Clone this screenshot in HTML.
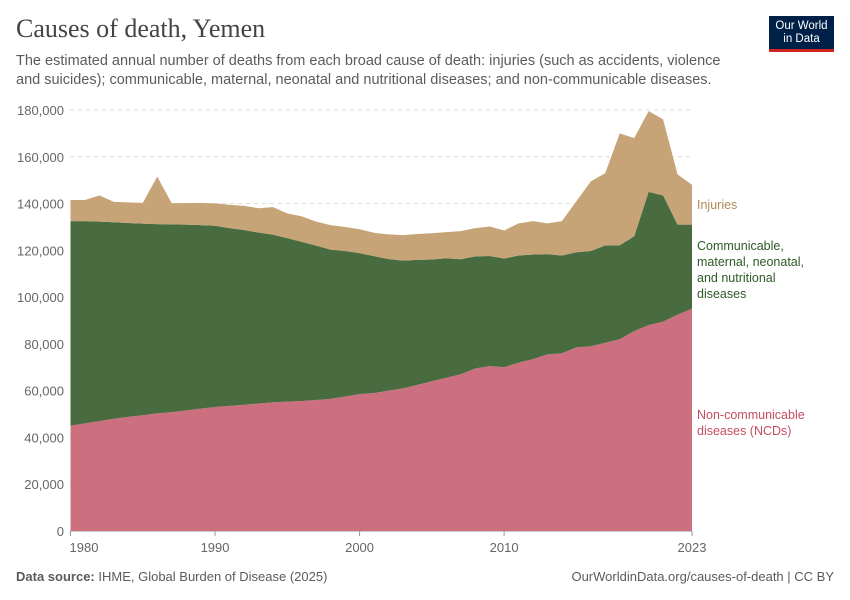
<!DOCTYPE html>
<html><head><meta charset="utf-8"><style>
body{margin:0;background:#fff;font-family:"Liberation Sans",sans-serif;}
#wrap{position:relative;width:850px;height:600px;overflow:hidden;}
.t{position:absolute;margin:0;}
</style></head><body>
<div id="wrap">
<div class="t" style="left:16px;top:14px;font-family:'Liberation Serif',serif;font-size:26px;color:#444;">Causes of death, Yemen</div>
<div class="t" style="left:16px;top:52px;width:720px;font-size:14.5px;line-height:19px;color:#5b5b5b;">The estimated annual number of deaths from each broad cause of death: injuries (such as accidents, violence and suicides); communicable, maternal, neonatal and nutritional diseases; and non-communicable diseases.</div>
<div class="t" style="left:769px;top:16px;width:65px;height:36px;background:#002147;color:#fff;font-size:11.5px;line-height:13px;text-align:center;padding-top:4px;box-sizing:border-box;border-bottom:3px solid #ce261e;">Our World<br>in Data</div>
<svg id="chart" width="850" height="600" style="position:absolute;left:0;top:0"></svg>
<div class="t" style="left:16px;top:569px;font-size:13px;color:#5b5b5b;"><b>Data source:</b> IHME, Global Burden of Disease (2025)</div>
<div class="t" style="right:16px;top:569px;font-size:13px;color:#5b5b5b;">OurWorldinData.org/causes-of-death | CC BY</div>
</div>
<script>
const years=[];for(let y=1980;y<=2023;y++)years.push(y);
const ncd=[45,46,47,48,48.8,49.5,50.3,50.8,51.5,52.3,53,53.5,54,54.5,55,55.3,55.6,56,56.5,57.5,58.5,59,60,61,62.5,64,65.5,67,69.5,70.5,70,72,73.5,75.5,76,78.5,79,80.5,82,85.5,88,89.5,92.5,95];
const cmnn=[87.5,86.5,85.3,84,82.9,81.9,80.9,80.3,79.5,78.5,77.5,76,74.7,73.1,71.7,69.9,68,66,63.8,62.2,60.3,58.5,56.3,54.6,53.4,52.1,51.1,49.2,47.9,47.1,46.5,45.8,44.7,42.9,41.8,40.7,40.7,41.6,40.2,40.5,57,54,38.5,36];
const injuries=[9,9,11.2,8.7,8.8,8.9,20.3,9.1,9.2,9.5,9.6,10,10.3,10.4,11.8,10.6,10.9,10.3,10.5,10.3,10.2,10,10.5,10.9,11.1,11.2,11.2,12,12.1,12.6,12,13.7,14.3,13.1,14.7,21.8,29.8,30.9,47.8,42,34.5,32.5,21.5,17];
const yTicks=[0,20000,40000,60000,80000,100000,120000,140000,160000,180000];
const xTicks=[1980,1990,2000,2010,2023];
const NS='http://www.w3.org/2000/svg',svg=document.getElementById('chart');
const X=y=>70.5+(y-1980)*(692-70.5)/43;
const Y=v=>531-v*(531-110)/180000;
function mk(t,a){const e=document.createElementNS(NS,t);for(const k in a)e.setAttribute(k,a[k]);svg.appendChild(e);return e;}
yTicks.forEach(v=>{
 const l=mk('line',{x1:70,x2:692,y1:Y(v),y2:Y(v),stroke:v?'#ddd':'#999','stroke-dasharray':v?'4,4':'none'});
 
 
 const t=mk('text',{x:64,y:Y(v)+5,'text-anchor':'end','font-size':13,fill:'#666','font-family':'Liberation Sans,sans-serif'});
 t.textContent=v.toLocaleString('en-US');
 
 
});
const b0=ncd.map(()=>0),b1=ncd.map(v=>v*1000),b2=ncd.map((v,i)=>(v+cmnn[i])*1000),b3=ncd.map((v,i)=>(v+cmnn[i]+injuries[i])*1000);
function area(lo,hi,col,name){
 let d='M'+years.map((y,i)=>X(y)+','+Y(hi[i])).join('L');
 for(let i=years.length-1;i>=0;i--)d+='L'+X(years[i])+','+Y(lo[i]);
 const p=mk('path',{d:d+'Z',fill:col});
 
 
}
area(b0,b1,'#cc707f','area-ncds');
area(b1,b2,'#486c40','area-communicable');
area(b2,b3,'#c7a478','area-injuries');
xTicks.forEach(y=>{
 const l=mk('line',{x1:X(y),x2:X(y),y1:531,y2:536,stroke:'#999'});
 
 
 const t=mk('text',{x:y===1980?84:X(y),y:552,'text-anchor':'middle','font-size':13,fill:'#666','font-family':'Liberation Sans,sans-serif'});
 t.textContent=y;
 
 
});
function lab(lines,y0,col,name){
 const t=mk('text',{x:697,y:y0,'font-size':12.5,fill:col,'font-family':'Liberation Sans,sans-serif'});
 
 
 lines.forEach((s,i)=>{const ts=document.createElementNS(NS,'tspan');ts.setAttribute('x',697);ts.setAttribute('dy',i?16:0);ts.textContent=s;t.appendChild(ts);});
}
lab(['Injuries'],209,'#b08a5a','legend-injuries');
lab(['Communicable,','maternal, neonatal,','and nutritional','diseases'],250,'#2f5a27','legend-communicable');
lab(['Non-communicable','diseases (NCDs)'],419,'#c44d62','legend-ncds');
</script>
</body></html>
